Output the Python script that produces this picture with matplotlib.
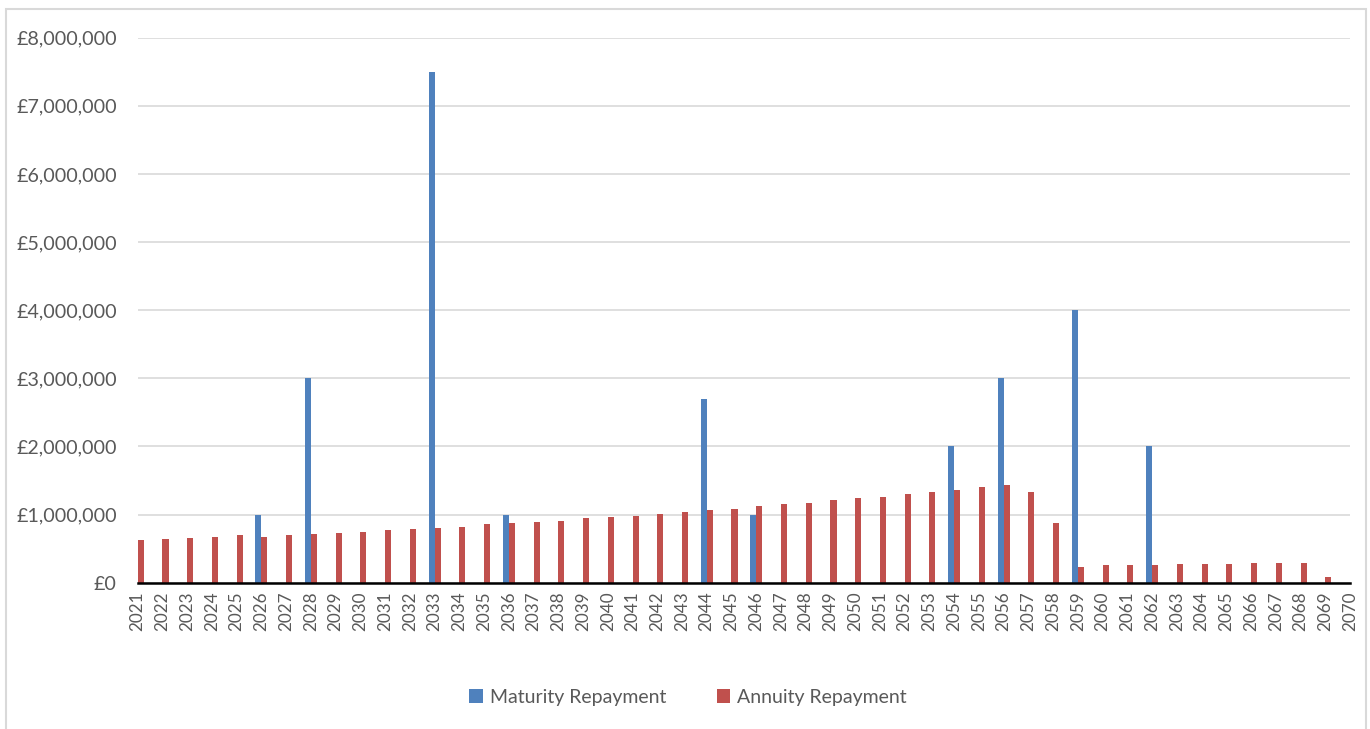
import matplotlib
matplotlib.use("Agg")
import matplotlib.pyplot as plt
from matplotlib.patches import Rectangle
from matplotlib.ticker import FuncFormatter, MultipleLocator
import numpy as np

years = list(range(2021, 2071))

maturity = [0, 0, 0, 0, 0, 1000000, 0, 3000000, 0, 0,
            0, 0, 7500000, 0, 0, 1000000, 0, 0, 0, 0,
            0, 0, 0, 2700000, 0, 1000000, 0, 0, 0, 0,
            0, 0, 0, 2000000, 0, 3000000, 0, 0, 4000000, 0,
            0, 2000000, 0, 0, 0, 0, 0, 0, 0, 0]

annuity = [625000, 642000, 660000, 677000, 697000, 677000, 697000, 716000, 730000, 750000,
           770000, 785000, 800000, 820000, 860000, 870000, 890000, 905000, 945000, 960000,
           980000, 1015000, 1035000, 1065000, 1085000, 1120000, 1150000, 1170000, 1210000, 1240000,
           1260000, 1295000, 1335000, 1365000, 1400000, 1430000, 1335000, 870000, 235000, 255000,
           255000, 255000, 275000, 275000, 275000, 295000, 295000, 295000, 80000, 0]

series_names = ["Maturity Repayment", "Annuity Repayment"]
colors = ["#4F81BD", "#C0504D"]

plt.rcParams['font.family'] = ['Lato', 'DejaVu Sans']
txt = "#595959"

W, H = 1370, 729
fig = plt.figure(figsize=(W / 100, H / 100), dpi=100)
fig.patch.set_facecolor("white")

# outer chart border
fig.patches.append(Rectangle((6 / W, -0.02), (1366 - 6) / W, (H - 9) / H + 0.02,
                             transform=fig.transFigure, fill=False,
                             edgecolor="#D9D9D9", linewidth=1.5))

ax = fig.add_axes([137.7 / W, (H - 582.7) / H, (1350 - 137.7) / W, (582.7 - 37.7) / H])

x = np.arange(len(years))
w = 0.245
ax.bar(x - w / 2, maturity, w, color=colors[0], label=series_names[0], zorder=3)
ax.bar(x + w / 2, annuity, w, color=colors[1], label=series_names[1], zorder=3)

ax.set_xlim(0, len(years) - 1)
ax.set_ylim(0, 8000000)
ax.yaxis.set_major_locator(MultipleLocator(1000000))
ax.yaxis.set_major_formatter(FuncFormatter(lambda v, p: "£{:,.0f}".format(v)))
ax.grid(axis="y", color="#D9D9D9", linewidth=1.2, zorder=0)
ax.set_axisbelow(True)

ax.set_xticks(x)
ax.set_xticklabels([str(y) for y in years], rotation=90, color=txt, fontsize=12.3)
ax.tick_params(axis="both", length=0)
ax.tick_params(axis="y", labelcolor=txt, labelsize=14.2, pad=15)
ax.tick_params(axis="x", pad=6)

for s in ["top", "right", "left"]:
    ax.spines[s].set_visible(False)
ax.spines["bottom"].set_color("black")
ax.spines["bottom"].set_linewidth(1.8)
ax.spines["bottom"].set_zorder(4)

leg = fig.legend(loc="center", bbox_to_anchor=(688 / W, (H - 697) / H), ncol=2,
                 frameon=False, fontsize=14, handlelength=0.7, handleheight=0.7,
                 handletextpad=0.35, columnspacing=2.6, labelcolor=txt)

fig.savefig("out.png", dpi=100, facecolor="white")
